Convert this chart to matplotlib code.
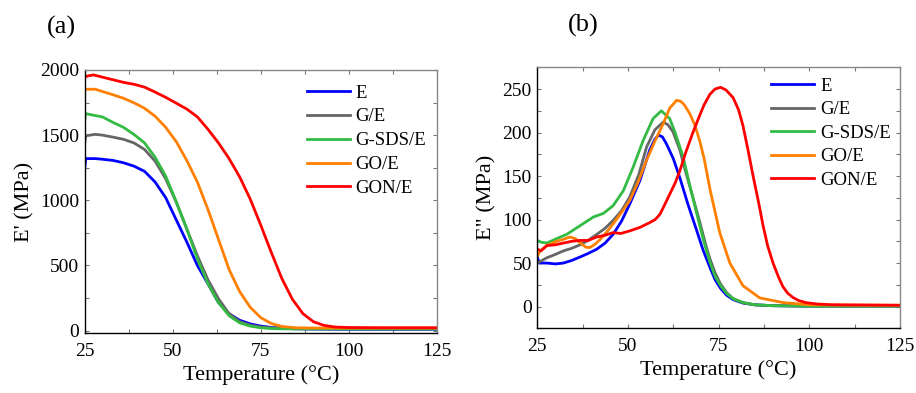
import matplotlib
matplotlib.use("Agg")
import matplotlib.pyplot as plt
from matplotlib.ticker import MultipleLocator

plt.rcParams['font.family'] = ['Liberation Serif', 'DejaVu Serif']

labels = ["E", "G/E", "G-SDS/E", "GO/E", "GON/E"]
colors = ["#0000ff", "#666666", "#33bb44", "#ff8000", "#ff0000"]

# (a) storage modulus E' (MPa)
Ta = [25, 25.3, 28, 30, 33, 36, 39, 42, 45, 48, 51, 54, 57, 60, 63, 66, 69, 72, 75, 78, 81, 85, 90, 100, 125]
Ea_E = [1250, 1320, 1320, 1315, 1306, 1288, 1262, 1222, 1140, 1020, 850, 680, 500, 360, 215, 130, 80, 52, 35, 25, 18, 14, 12, 10, 10]
Ea_GE = [1440, 1495, 1506, 1500, 1485, 1468, 1440, 1390, 1300, 1165, 985, 780, 575, 390, 245, 130, 70, 42, 28, 22, 18, 16, 15, 15, 15]
Ea_GSDS = [1620, 1665, 1650, 1640, 1598, 1560, 1505, 1440, 1330, 1185, 990, 780, 550, 360, 215, 115, 60, 35, 22, 16, 14, 13, 13, 13, 13]
Ea_GO = [1845, 1852, 1852, 1835, 1810, 1783, 1748, 1706, 1645, 1560, 1450, 1305, 1140, 930, 700, 470, 300, 180, 100, 55, 32, 22, 20, 20, 20]
Ta_r = [25, 26, 27.5, 30, 33, 36, 39, 42, 45, 48, 51, 54, 57, 60, 63, 66, 69, 72, 75, 78, 81, 84, 87, 90, 93, 96, 100, 110, 125]
Ea_GON = [1945, 1955, 1962, 1945, 1925, 1905, 1890, 1868, 1830, 1790, 1745, 1700, 1640, 1545, 1440, 1320, 1180, 1010, 810, 600, 400, 240, 130, 68, 40, 28, 24, 22, 22]

# (b) loss modulus E'' (MPa)
Tb_E = [25, 25.5, 27.6, 30, 32.2, 34.5, 36.8, 39, 41.4, 43.7, 45.9, 48.2, 50.5, 53.3, 56, 57.5, 58.5, 59.5, 60.6, 62.5, 64.3, 66.5, 68.9, 70.7, 72.5, 74, 75.5, 77.2, 79, 81.7, 85, 90, 100, 125]
Eb_E = [57, 50, 50, 49, 50, 53, 57, 61, 66, 73, 83, 98, 118, 145, 180, 193, 197, 195, 187, 170, 148, 118, 88, 65, 46, 31, 21, 13, 8, 4, 2, 1, 0.5, 0.5]
Tb_GE = [25, 27.6, 30, 32.2, 34.5, 36.8, 39, 41.4, 43.7, 45.9, 48.2, 50.5, 53, 55.1, 57.4, 59.7, 61, 62.4, 64.3, 66.1, 68, 69.8, 71.5, 72.5, 74, 75.5, 77.2, 79, 81.7, 85, 90, 100, 125]
Eb_GE = [50, 56, 60, 64, 67, 71, 76, 83, 90, 99, 110, 126, 152, 183, 203, 212, 209, 201, 180, 152, 124, 97, 70, 56, 39, 26, 16, 9, 4.5, 2, 1, 0.5, 0.5]
Tb_GSDS = [25, 26, 27.6, 30.3, 33.1, 36.8, 40.5, 43.2, 45.9, 48.7, 51.4, 54.2, 56.9, 59.2, 61.5, 63, 65.2, 67, 68.9, 70.7, 72.5, 74, 75.5, 77.2, 79, 81.7, 85, 90, 100, 125]
Eb_GSDS = [76, 74, 73, 78, 83, 93, 103, 107, 116, 133, 160, 191, 216, 225, 216, 200, 172, 140, 108, 78, 52, 35, 24, 15, 9, 4.6, 2, 1, 0.5, 0.5]
Tb_GO = [25, 25.8, 27.6, 30.3, 32, 34, 35.5, 36.8, 38.5, 39.6, 41, 42.3, 44, 45.9, 48.2, 50.5, 52.8, 55.1, 57.4, 59.7, 61.5, 63.4, 64.5, 65.5, 67, 68.5, 69.8, 71, 72.6, 75.3, 78.1, 81.7, 86.3, 92.7, 100, 125]
Eb_GO = [58, 64, 70, 75, 77, 80, 78, 73, 68, 68, 72, 77, 85, 95, 108, 122, 143, 168, 190, 210, 228, 237, 236, 232, 222, 208, 190, 170, 135, 85, 50, 24, 10, 4.6, 2, 1.5]
Tb_GON = [25, 26, 27.6, 30, 32.2, 34.5, 36.8, 39, 41.4, 43.7, 45.9, 48, 50.5, 53.3, 56, 57.5, 58.8, 60, 61.5, 63, 64.3, 66, 67.9, 69.8, 71, 72.6, 74, 75.5, 77, 79, 80.5, 81.7, 83, 84.5, 86, 87.2, 88.5, 90, 91.5, 92.7, 94, 95.5, 97, 99, 102, 106.5, 125]
Eb_GON = [66, 64, 70, 71, 73, 75, 76, 76, 80, 82, 85, 84, 87, 91, 96.5, 100, 106, 116, 129, 142, 156, 178, 200, 220, 232, 244, 250, 252, 249, 240, 226, 208, 182, 150, 120, 94, 70, 50, 34, 23, 15.5, 10.4, 7, 4.6, 3, 2, 1.5]

fig = plt.figure(figsize=(9.16, 3.93), dpi=100)
ax1 = fig.add_axes([0.0925, 0.152, 0.3843, 0.670])
ax2 = fig.add_axes([0.5866, 0.1646, 0.3959, 0.6642])

series_a = [(Ta, Ea_E), (Ta, Ea_GE), (Ta, Ea_GSDS), (Ta, Ea_GO), (Ta_r, Ea_GON)]
series_b = [(Tb_E, Eb_E), (Tb_GE, Eb_GE), (Tb_GSDS, Eb_GSDS), (Tb_GO, Eb_GO), (Tb_GON, Eb_GON)]

for (t, v), lab, c in zip(series_a, labels, colors):
    ax1.plot(t, v, color=c, lw=2, label=lab)
for (t, v), lab, c in zip(series_b, labels, colors):
    ax2.plot(t, v, color=c, lw=2, label=lab)

ax1.set_xlim(25, 125)
ax1.set_ylim(-20, 2000)
ax1.yaxis.set_major_locator(MultipleLocator(500))
ax1.yaxis.set_minor_locator(MultipleLocator(250))
ax1.set_ylabel("E' (MPa)", fontsize=16)

ax2.set_xlim(25, 125)
ax2.set_ylim(-25, 275)
ax2.yaxis.set_major_locator(MultipleLocator(50))
ax2.yaxis.set_minor_locator(MultipleLocator(25))
ax2.set_ylabel('E" (MPa)', fontsize=16)

for ax in (ax1, ax2):
    ax.xaxis.set_major_locator(MultipleLocator(25))
    ax.xaxis.set_minor_locator(MultipleLocator(12.5))
    ax.set_xlabel("Temperature (°C)", fontsize=16, labelpad=4)
    ax.tick_params(which='both', direction='in', top=True, right=True,
                   length=3, width=0.8, color='#777777', labelsize=14)
    ax.tick_params(axis='x', pad=7)
    ax.tick_params(axis='y', pad=4)
    ax.spines['left'].set_color('black')
    ax.spines['bottom'].set_color('black')
    ax.spines['top'].set_color('#888888')
    ax.spines['right'].set_color('#888888')
    for s in ax.spines.values():
        s.set_linewidth(1.0)

ax1.legend(frameon=False, loc='upper left', bbox_to_anchor=(0.63, 0.945),
           fontsize=13.5, handlelength=2.3, handletextpad=0.3,
           labelspacing=0.36, borderpad=0, borderaxespad=0)
ax2.legend(frameon=False, loc='upper left', bbox_to_anchor=(0.645, 0.96),
           fontsize=13.5, handlelength=2.3, handletextpad=0.3,
           labelspacing=0.34, borderpad=0, borderaxespad=0)

fig.text(61 / 916, 1 - 27 / 393, "(a)", fontsize=19, ha='center', va='center')
fig.text(583 / 916, 1 - 25 / 393, "(b)", fontsize=19, ha='center', va='center')

fig.savefig("out.png", dpi=100)
